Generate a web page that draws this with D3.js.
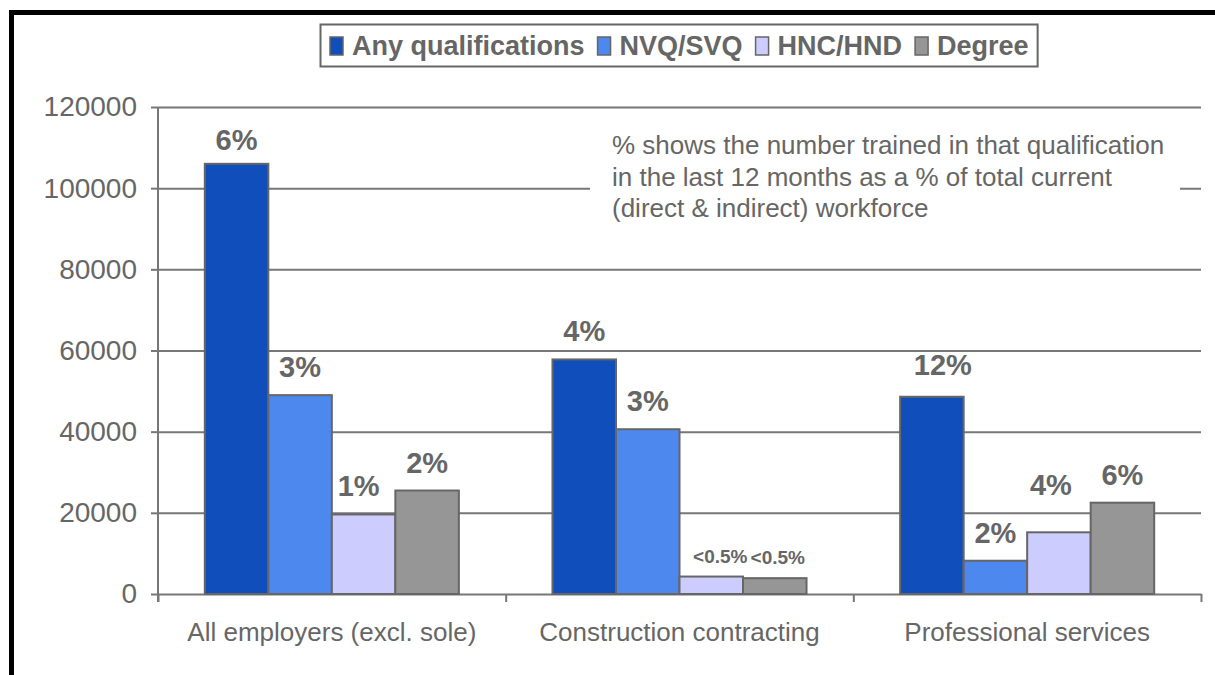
<!DOCTYPE html>
<html lang="en">
<head>
<meta charset="utf-8">
<script src="https://d3js.org/d3.v7.min.js"></script>
<style>
body { margin: 0; background: #fff; }
text {
  font-family: "Liberation Sans", Arial, Helvetica, sans-serif;
  fill: #666;
}
</style>
</head>
<body>
<svg id="chart" width="1215" height="675"></svg>
<script>
// data
var categories = ["All employers (excl. sole)", "Construction contracting", "Professional services"];
var series = ["Any qualifications", "NVQ/SVQ", "HNC/HND", "Degree"];
var anyQual = [106000, 57800, 48600];
var nvqSvq = [49000, 40600, 8200];
var hncHnd = [19600, 4300, 15200];
var degree = [25500, 3900, 22500];
var pctAny = ["6%", "4%", "12%"];
var pctNvq = ["3%", "3%", "2%"];
var pctHnc = ["1%", "<0.5%", "4%"];
var pctDegree = ["2%", "<0.5%", "6%"];
var yTicks = [0, 20000, 40000, 60000, 80000, 100000, 120000];
var note = ["% shows the number trained in that qualification",
            "in the last 12 months as a % of total current",
            "(direct & indirect) workforce"];

var colors = ["#104fbb", "#4d88ee", "#ccccff", "#969696"];
var values = [anyQual, nvqSvq, hncHnd, degree];
var pcts = [pctAny, pctNvq, pctHnc, pctDegree];

var svg = d3.select("#chart");
var plotLeft = 158, plotRight = 1201, plotTop = 107, plotBottom = 594;

var x0 = d3.scaleBand().domain(categories).range([plotLeft, plotRight]);
var x1 = d3.scaleBand().domain(series).range([0, x0.bandwidth()])
  .paddingInner(0).paddingOuter(0.737);
var y = d3.scaleLinear().domain([0, 120000]).range([plotBottom, plotTop]);
var color = d3.scaleOrdinal().domain(series).range(colors);

// black frame (top + left only, the rest is cut off)
svg.append("path")
  .attr("d", "M11.5,675V12.5H1215")
  .attr("fill", "none")
  .attr("stroke", "#000")
  .attr("stroke-width", 5);

// gridlines
svg.append("g")
  .attr("transform", "translate(" + plotLeft + ",0)")
  .call(d3.axisLeft(y).tickValues(yTicks.slice(1)).tickSize(-(plotRight - plotLeft)).tickFormat(""))
  .call(g => g.select(".domain").remove())
  .call(g => g.selectAll("line").attr("stroke", "#777").attr("stroke-width", 2));

// y axis
svg.append("g")
  .attr("transform", "translate(" + plotLeft + ",0)")
  .call(d3.axisLeft(y).tickValues(yTicks).tickSize(7).tickSizeOuter(0).tickPadding(14)
    .tickFormat(d3.format("d")))
  .call(g => g.select(".domain").attr("stroke", "#777").attr("stroke-width", 2)
    .attr("d", "M0," + plotTop + "V" + (plotBottom + 8)))
  .call(g => g.selectAll("line").attr("stroke", "#777").attr("stroke-width", 2))
  .call(g => g.selectAll("text").attr("font-size", 28).attr("fill", "#666")
    .style("font-family", '"Liberation Sans", Arial, sans-serif'));

// x axis: boundary ticks + category labels
var bounds = categories.map(c => x0(c)).concat([plotRight]);
svg.append("g")
  .attr("transform", "translate(0," + plotBottom + ")")
  .call(d3.axisBottom(d3.scaleLinear().domain([plotLeft, plotRight]).range([plotLeft, plotRight]))
    .tickValues(bounds).tickSize(8).tickSizeOuter(0).tickFormat(""))
  .call(g => g.select(".domain").attr("stroke", "#777").attr("stroke-width", 2))
  .call(g => g.selectAll("line").attr("stroke", "#777").attr("stroke-width", 2));

svg.append("g").selectAll("text")
  .data(categories)
  .enter().append("text")
  .attr("x", d => x0(d) + x0.bandwidth() / 2)
  .attr("y", 641)
  .attr("text-anchor", "middle")
  .attr("font-size", 26)
  .text(d => d);

// note box (white background hides the gridline)
var noteG = svg.append("g");
noteG.append("rect")
  .attr("x", 590).attr("y", 125).attr("width", 590).attr("height", 102)
  .attr("fill", "#fff");
noteG.selectAll("text")
  .data(note)
  .enter().append("text")
  .attr("x", 612)
  .attr("y", (d, i) => 154 + i * 31.5)
  .attr("font-size", 26)
  .text(d => d);

// bars
var rows = [];
categories.forEach(function(c, ci) {
  series.forEach(function(s, si) {
    rows.push({cat: c, ser: s, value: values[si][ci], pct: pcts[si][ci]});
  });
});

svg.append("g").selectAll("rect")
  .data(rows)
  .enter().append("rect")
  .attr("x", d => x0(d.cat) + x1(d.ser))
  .attr("y", d => y(d.value))
  .attr("width", x1.bandwidth())
  .attr("height", d => y(0) - y(d.value))
  .attr("fill", d => color(d.ser))
  .attr("stroke", "#666")
  .attr("stroke-width", 2);

// hand placed labels in the original, small nudges
var nudge = {
  "All employers (excl. sole)|Any qualifications": [0, 4],
  "All employers (excl. sole)|HNC/HND": [-5, 0],
  "Construction contracting|HNC/HND": [9, 0],
  "Construction contracting|Degree": [3, 0],
  "Professional services|Any qualifications": [11, -4],
  "Professional services|HNC/HND": [-8, -19]
};

svg.append("g").selectAll("text")
  .data(rows)
  .enter().append("text")
  .attr("x", function(d) {
    var n = nudge[d.cat + "|" + d.ser] || [0, 0];
    return x0(d.cat) + x1(d.ser) + x1.bandwidth() / 2 + n[0];
  })
  .attr("y", function(d) {
    var n = nudge[d.cat + "|" + d.ser] || [0, 0];
    var small = d.pct.charAt(0) == "<";
    return y(d.value) - (small ? 14 : 18) + n[1];
  })
  .attr("text-anchor", "middle")
  .attr("font-weight", "bold")
  .attr("font-size", d => d.pct.charAt(0) == "<" ? 19 : 29)
  .text(d => d.pct);

// legend
var legend = svg.append("g");
var box = legend.append("rect")
  .attr("x", 320.5).attr("y", 24.5).attr("height", 42)
  .attr("fill", "#fff").attr("stroke", "#666").attr("stroke-width", 2);
var lx = 330;
series.forEach(function(s) {
  legend.append("rect")
    .attr("x", lx).attr("y", 37).attr("width", 13).attr("height", 18)
    .attr("fill", color(s)).attr("stroke", "#666").attr("stroke-width", 1.5);
  var t = legend.append("text")
    .attr("x", lx + 22).attr("y", 55)
    .attr("font-size", 27).attr("font-weight", "bold")
    .text(s);
  lx += 22 + t.node().getComputedTextLength() + 13;
});
box.attr("width", lx - 320.5 - 4);
</script>
</body>
</html>
